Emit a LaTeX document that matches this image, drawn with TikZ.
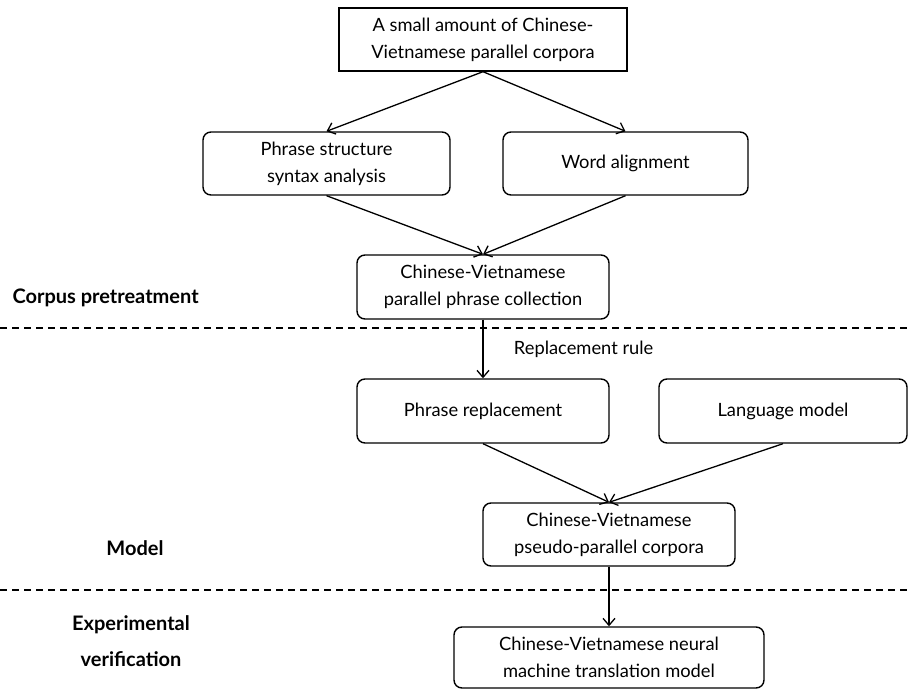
\documentclass[tikz,border=0pt]{standalone}
\usepackage{fontspec}
\setmainfont{Lato}
\usetikzlibrary{arrows.meta}
\begin{document}
\begin{tikzpicture}[x=1pt,y=-1pt,
  box/.style={draw, line width=1.4pt, rounded corners=8pt, align=center,
    font=\fontsize{18.3}{27}\selectfont, inner sep=0pt},
  plainbox/.style={box, rounded corners=0pt},
  flow/.style={-{Straight Barb[length=7pt,width=12pt]}, line width=1.3pt},
  divider/.style={line width=1.4pt, dash pattern=on 7pt off 5pt},
  stage/.style={font=\fontsize{20}{36}\selectfont\bfseries, align=center}]

\useasboundingbox (0,0) rectangle (912,690);

% processing steps
\node[plainbox, minimum width=288pt, minimum height=63pt] (src) at (483,39.5)
  {A small amount of Chinese-\\Vietnamese parallel corpora};
\node[box, minimum width=247pt, minimum height=63pt] (psa) at (326.5,163.5)
  {Phrase structure\\syntax analysis};
\node[box, minimum width=245pt, minimum height=63pt] (wal) at (625.5,163.5)
  {Word alignment};
\node[box, minimum width=252pt, minimum height=64pt] (coll) at (483,287)
  {Chinese-Vietnamese\\parallel phrase collection};
\node[box, minimum width=252pt, minimum height=64pt] (repl) at (483,411)
  {Phrase replacement};
\node[box, minimum width=248pt, minimum height=64pt] (lm) at (783,411)
  {Language model};
\node[box, minimum width=252pt, minimum height=63pt] (pseudo) at (609,534.5)
  {Chinese-Vietnamese\\pseudo-parallel corpora};
\node[box, minimum width=310pt, minimum height=61pt] (nmt) at (609,657.5)
  {Chinese-Vietnamese neural\\machine translation model};

% stage separators
\coordinate (d1l) at (0,328);  \coordinate (d1r) at (912,328);
\coordinate (d2l) at (0,590);  \coordinate (d2r) at (912,590);
\draw[divider] (d1l) -- (d1r);
\draw[divider] (d2l) -- (d2r);

% stage names
\node[stage, anchor=west] (st1) at (9,298) {Corpus pretreatment};
\node[stage] (st2) at (135,548) {Model};
\node[stage] (st3) at (131,641) {Experimental\\verification};

% connectors
\draw[flow] (src.south) -- (psa.north);
\draw[flow] (src.south) -- (wal.north);
\draw[flow] (psa.south) -- (coll.north);
\draw[flow] (wal.south) -- (coll.north);
\draw[flow] (coll.south) -- node[right, xshift=27pt, font=\fontsize{18.3}{27}\selectfont] (rule) {Replacement rule} (repl.north);
\draw[flow] (repl.south) -- (pseudo.north);
\draw[flow] (lm.south) -- (pseudo.north);
\draw[flow] (pseudo.south) -- (nmt.north);
\end{tikzpicture}
\end{document}
